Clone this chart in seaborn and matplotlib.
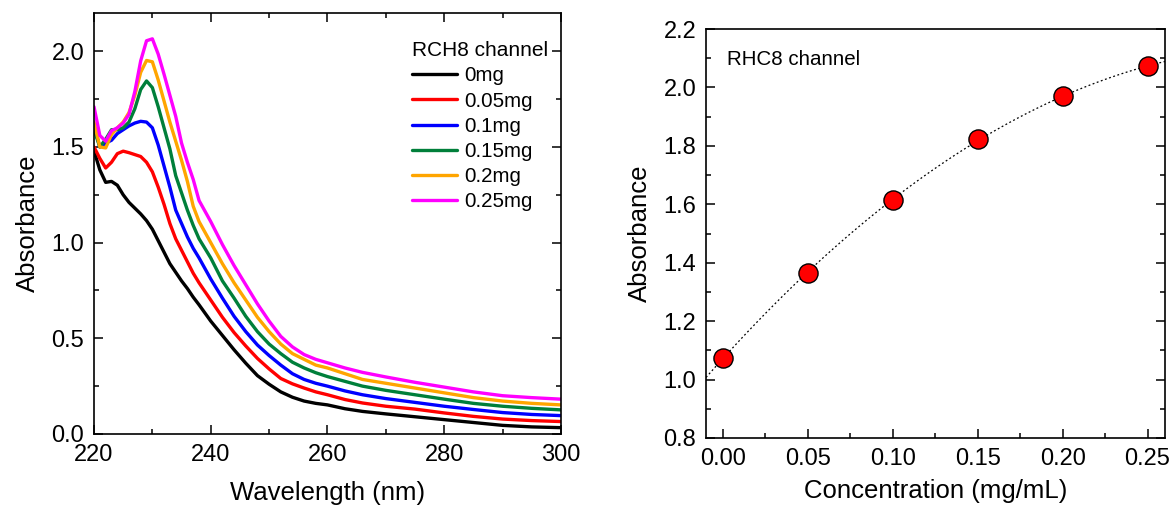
import numpy as np
import pandas as pd
import matplotlib
matplotlib.use('Agg')
import matplotlib.pyplot as plt
from matplotlib.ticker import MultipleLocator, FormatStrFormatter
import seaborn as sns


wavelength = [220, 221, 222, 223, 224, 225, 226, 227, 228, 229, 230, 231, 232, 233, 234,
              235, 236, 237, 238, 240, 242, 244, 246, 248, 250, 252, 254, 256, 258, 260,
              263, 266, 270, 275, 280, 285, 290, 295, 300]

abs_0 = [1.48, 1.38, 1.315, 1.32, 1.30, 1.25, 1.21, 1.18, 1.15, 1.115, 1.07, 1.01, 0.95, 0.89, 0.845,
         0.80, 0.76, 0.715, 0.675, 0.59, 0.515, 0.44, 0.37, 0.305, 0.26, 0.22, 0.192, 0.172, 0.16, 0.152,
         0.132, 0.118, 0.105, 0.09, 0.075, 0.06, 0.045, 0.037, 0.033]
abs_005 = [1.50, 1.44, 1.39, 1.42, 1.465, 1.478, 1.47, 1.46, 1.45, 1.42, 1.37, 1.29, 1.20, 1.10, 1.02,
           0.96, 0.90, 0.84, 0.79, 0.70, 0.61, 0.53, 0.46, 0.395, 0.34, 0.29, 0.262, 0.24, 0.22, 0.205,
           0.18, 0.162, 0.145, 0.13, 0.11, 0.092, 0.078, 0.07, 0.065]
abs_01 = [1.61, 1.50, 1.52, 1.535, 1.57, 1.59, 1.61, 1.625, 1.634, 1.63, 1.60, 1.51, 1.40, 1.29, 1.17,
          1.10, 1.03, 0.97, 0.92, 0.81, 0.71, 0.615, 0.535, 0.465, 0.41, 0.36, 0.315, 0.285, 0.265, 0.25,
          0.225, 0.205, 0.185, 0.165, 0.145, 0.128, 0.112, 0.102, 0.096]
abs_015 = [1.59, 1.50, 1.54, 1.59, 1.59, 1.60, 1.63, 1.70, 1.80, 1.845, 1.81, 1.71, 1.60, 1.49, 1.35,
           1.26, 1.17, 1.09, 1.02, 0.92, 0.80, 0.71, 0.615, 0.535, 0.47, 0.42, 0.375, 0.345, 0.32, 0.30,
           0.275, 0.25, 0.228, 0.205, 0.182, 0.16, 0.145, 0.134, 0.126]
abs_02 = [1.63, 1.50, 1.495, 1.565, 1.60, 1.63, 1.68, 1.77, 1.89, 1.952, 1.945, 1.85, 1.74, 1.63, 1.53,
          1.43, 1.32, 1.19, 1.11, 1.00, 0.89, 0.79, 0.70, 0.61, 0.535, 0.47, 0.42, 0.39, 0.36, 0.345,
          0.315, 0.285, 0.265, 0.24, 0.215, 0.19, 0.172, 0.16, 0.152]
abs_025 = [1.71, 1.56, 1.53, 1.585, 1.60, 1.625, 1.67, 1.79, 1.95, 2.055, 2.065, 1.985, 1.88, 1.77, 1.66,
           1.52, 1.42, 1.33, 1.22, 1.11, 0.99, 0.88, 0.78, 0.68, 0.59, 0.51, 0.455, 0.415, 0.39, 0.372,
           0.345, 0.322, 0.298, 0.27, 0.245, 0.22, 0.2, 0.19, 0.182]

doses = ['0mg', '0.05mg', '0.1mg', '0.15mg', '0.2mg', '0.25mg']
colors = ['#000000', '#ff0000', '#0000ff', '#007f3a', '#ffa500', '#ff00ff']

conc = [0.00, 0.05, 0.10, 0.15, 0.20, 0.25]
absorb = [1.075, 1.365, 1.615, 1.822, 1.970, 2.072]

spectra = pd.DataFrame({'Wavelength': wavelength, '0mg': abs_0, '0.05mg': abs_005, '0.1mg': abs_01,
                        '0.15mg': abs_015, '0.2mg': abs_02, '0.25mg': abs_025})
spectra = spectra.melt(id_vars='Wavelength', var_name='Dose', value_name='Absorbance')
points = pd.DataFrame({'Concentration': conc, 'Absorbance': absorb})

sns.set_style('ticks')
plt.rcParams['font.family'] = ['Liberation Sans', 'DejaVu Sans']
plt.rcParams['axes.linewidth'] = 1.2
for k in ('text.color', 'axes.labelcolor', 'xtick.color', 'ytick.color', 'axes.edgecolor'):
    plt.rcParams[k] = 'black'

fig = plt.figure(figsize=(11.75, 5.08), dpi=100)
ax1 = fig.add_axes([0.080, 0.1457, 0.3974, 0.8287])
ax2 = fig.add_axes([0.6009, 0.1378, 0.3906, 0.8051])

# left: spectra
sns.lineplot(data=spectra, x='Wavelength', y='Absorbance', hue='Dose', hue_order=doses,
             palette=dict(zip(doses, colors)), linewidth=2.4, ax=ax1)
ax1.set_xlim(220, 300)
ax1.set_ylim(0, 2.2)
ax1.xaxis.set_major_locator(MultipleLocator(20))
ax1.xaxis.set_minor_locator(MultipleLocator(10))
ax1.yaxis.set_major_locator(MultipleLocator(0.5))
ax1.yaxis.set_minor_locator(MultipleLocator(0.25))
ax1.yaxis.set_major_formatter(FormatStrFormatter('%.1f'))
ax1.set_xlabel('Wavelength (nm)', fontsize=18.5, labelpad=11)
ax1.set_ylabel('Absorbance', fontsize=18.5, labelpad=8)
handles, labels = ax1.get_legend_handles_labels()
leg = ax1.legend(handles, labels, title='RCH8 channel', loc='upper left',
                 bbox_to_anchor=(0.68, 0.933), frameon=False, fontsize=14.8,
                 title_fontsize=15, handlelength=2.2, handletextpad=0.35,
                 labelspacing=0.3, borderpad=0, borderaxespad=0, alignment='left')
for line in leg.get_lines():
    line.set_linewidth(2.4)

# right: calibration
ax2.set_xlim(-0.010, 0.2603)
ax2.set_ylim(0.8, 2.2)
sns.regplot(data=points, x='Concentration', y='Absorbance', order=2, ci=None, scatter=False,
            truncate=False, line_kws={'color': 'black', 'linestyle': (0, (1.5, 2)), 'linewidth': 0.9},
            ax=ax2)
sns.scatterplot(data=points, x='Concentration', y='Absorbance', color='#ff0000', edgecolor='black',
                linewidth=1.0, s=190, zorder=3, ax=ax2)
ax2.set_xlim(-0.010, 0.2603)
ax2.xaxis.set_major_locator(MultipleLocator(0.05))
ax2.xaxis.set_minor_locator(MultipleLocator(0.025))
ax2.yaxis.set_major_locator(MultipleLocator(0.2))
ax2.yaxis.set_minor_locator(MultipleLocator(0.1))
ax2.xaxis.set_major_formatter(FormatStrFormatter('%.2f'))
ax2.yaxis.set_major_formatter(FormatStrFormatter('%.1f'))
ax2.set_xlabel('Concentration (mg/mL)', fontsize=18.5, labelpad=7)
ax2.set_ylabel('Absorbance', fontsize=18.5, labelpad=8)
ax2.text(0.045, 0.926, 'RHC8 channel', transform=ax2.transAxes, fontsize=14.8, va='center', ha='left')

for ax in (ax1, ax2):
    ax.tick_params(which='both', direction='in', labelsize=17, pad=7, width=1.1)
    ax.tick_params(which='major', length=6.5)
    ax.tick_params(which='minor', length=3.5)
ax1.tick_params(which='both', top=True, right=True)
ax2.tick_params(which='both', right=True)
for ax in (ax1, ax2):
    for s in ax.spines.values():
        s.set_visible(True)

fig.savefig('out.png', dpi=100)
